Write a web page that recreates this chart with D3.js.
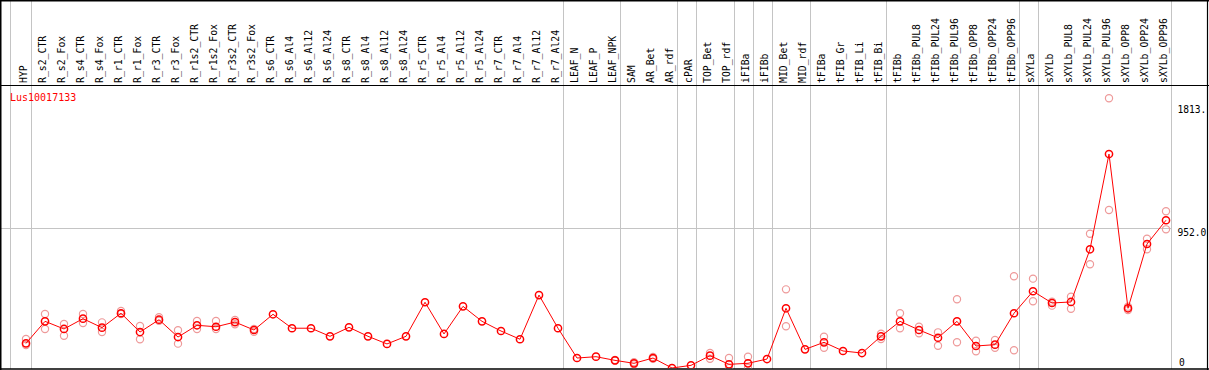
<!DOCTYPE html>
<html><head><meta charset="utf-8">
<script src="https://cdn.jsdelivr.net/npm/d3@7"></script>
<style>html,body{margin:0;padding:0;background:#fff;}svg{display:block;}</style>
</head><body>
<svg id="chart" width="1209" height="370"></svg>
<script>
const categories = ["HYP","R_s2_CTR","R_s2_Fox","R_s4_CTR","R_s4_Fox","R_r1_CTR","R_r1_Fox","R_r3_CTR","R_r3_Fox","R_r1s2_CTR","R_r1s2_Fox","R_r3s2_CTR","R_r3s2_Fox","R_s6_CTR","R_s6_Al4","R_s6_Al12","R_s6_Al24","R_s8_CTR","R_s8_Al4","R_s8_Al12","R_s8_Al24","R_r5_CTR","R_r5_Al4","R_r5_Al12","R_r5_Al24","R_r7_CTR","R_r7_Al4","R_r7_Al12","R_r7_Al24","LEAF_N","LEAF_P","LEAF_NPK","SAM","AR_Bet","AR_rdf","cPAR","TOP_Bet","TOP_rdf","iFIBa","iFIBb","MID_Bet","MID_rdf","tFIBa","tFIB_Gr","tFIB_Li","tFIB_Bi","tFIBb","tFIBb_PUL8","tFIBb_PUL24","tFIBb_PUL96","tFIBb_OPP8","tFIBb_OPP24","tFIBb_OPP96","sXYLa","sXYLb","sXYLb_PUL8","sXYLb_PUL24","sXYLb_PUL96","sXYLb_OPP8","sXYLb_OPP24","sXYLb_OPP96"];
const groupSizes = [1,28,3,3,1,2,1,1,2,4,7,1,7];
const meanValues = [168,318,266,336,275,373,245,329,211,291,281,313,259,366,271,271,216,277,216,164,216,448,232,420,318,252,196,497,271,68,77,52,32,68,0,18,84,25,32,61,407,127,175,116,102,216,318,259,206,318,150,159,373,523,443,450,809,1458,407,845,1007];
const replicateValues = [[198,157],[368,266],[300,220],[368,307],[311,245],[388,368],[286,196],[346,322],[257,166],[320,266],[320,266],[327,298],[266,247],[],[],[],[],[],[],[],[],[],[],[],[],[],[],[],[],[],[],[55,50],[40,25],[75,62],[],[],[102,63],[68,0],[77,0],[],[536,284],[],[213,138],[],[],[198,234],[373,271],[281,236],[243,152],[468,175],[186,114],[191,138],[625,121],[609,455],[452,425],[486,404],[915,707],[1838,1077],[418,395],[881,809],[1068,945]];
const yTickValues = [1813, 952, 0];
const yTickLabels = ["1813.","952.0","0"];
const geneLabel = "Lus10017133";

const svg = d3.select("#chart");
const W = 1209;
const font = "'DejaVu Sans Mono', monospace";
const x = d3.scalePoint().domain(categories).range([26, 1166]);
const y = d3.scaleLinear().domain([0, 1904]).range([368, 88.6]);

// group boundaries
let idx = 0; const bounds = [x(categories[0]) - 15.7];
groupSizes.forEach(s => { idx += s; bounds.push(x(categories[idx-1]) + 4.5); });
svg.append("g").selectAll("line").data(bounds).join("line")
  .attr("x1", d => Math.round(d)+0.5).attr("x2", d => Math.round(d)+0.5)
  .attr("y1", 0).attr("y2", 369).attr("stroke", "#c4c4c4").attr("stroke-width", 1);

// gridline at 952
svg.append("line").attr("x1", 0).attr("x2", Math.round(bounds[bounds.length-1])+0.5)
  .attr("y1", Math.round(y(952))+0.5).attr("y2", Math.round(y(952))+0.5)
  .attr("stroke", "#c4c4c4").attr("stroke-width", 1);

// frame
svg.append("line").attr("x1",0).attr("x2",W).attr("y1",0.75).attr("y2",0.75).attr("stroke","#000").attr("stroke-width",1.5);
svg.append("line").attr("x1",0).attr("x2",W).attr("y1",85.5).attr("y2",85.5).attr("stroke","#000").attr("stroke-width",1.2);
svg.append("line").attr("x1",0.75).attr("x2",0.75).attr("y1",0).attr("y2",370).attr("stroke","#000").attr("stroke-width",1.5);
svg.append("line").attr("x1",1207.5).attr("x2",1207.5).attr("y1",0).attr("y2",370).attr("stroke","#000").attr("stroke-width",1.2);
svg.append("line").attr("x1",0).attr("x2",W).attr("y1",369).attr("y2",369).attr("stroke","#000").attr("stroke-width",1.5);

// column labels
svg.append("g").selectAll("text").data(categories).join("text")
  .attr("transform", d => `translate(${x(d)+1},83) rotate(-90)`)
  .attr("font-family", font).attr("font-size", "9.8px").attr("fill", "#000")
  .text(d => d);

// gene label
svg.append("text").attr("x", 10).attr("y", 100.5).attr("font-family", font)
  .attr("font-size", "10px").attr("fill", "#ff0000").text(geneLabel);

// y labels
const yOff = [4, 0, -9];
svg.append("g").selectAll("text").data(yTickValues).join("text")
  .attr("x", (d,i) => i===2 ? 1179 : 1177.5).attr("y", (d,i) => y(d) + yOff[i])
  .attr("dominant-baseline", "hanging")
  .attr("font-family", font).attr("font-size", "9.6px").attr("fill", "#000")
  .text((d,i) => yTickLabels[i]);

// plot clip
svg.append("clipPath").attr("id","pc").append("rect").attr("x",1).attr("y",86).attr("width",1206).attr("height",282.3);
const plot = svg.append("g").attr("clip-path","url(#pc)");

// replicates
const reps = [];
replicateValues.forEach((arr, i) => arr.forEach(v => reps.push({c: categories[i], v})));
plot.append("g").selectAll("circle").data(reps).join("circle")
  .attr("cx", d => x(d.c)).attr("cy", d => y(d.v)).attr("r", 3.6)
  .attr("fill", "none").attr("stroke", "#ee9a9a").attr("stroke-width", 1.2);

// mean line
const pts = categories.map((c, i) => ({c, v: meanValues[i]}));
plot.append("path").datum(pts)
  .attr("d", d3.line().x(d => x(d.c)).y(d => y(d.v)))
  .attr("fill", "none").attr("stroke", "#ff0000").attr("stroke-width", 1);
plot.append("g").selectAll("circle").data(pts).join("circle")
  .attr("cx", d => x(d.c)).attr("cy", d => y(d.v)).attr("r", 3.6)
  .attr("fill", "none").attr("stroke", "#ff0000").attr("stroke-width", 1.5);
</script>
</body></html>
